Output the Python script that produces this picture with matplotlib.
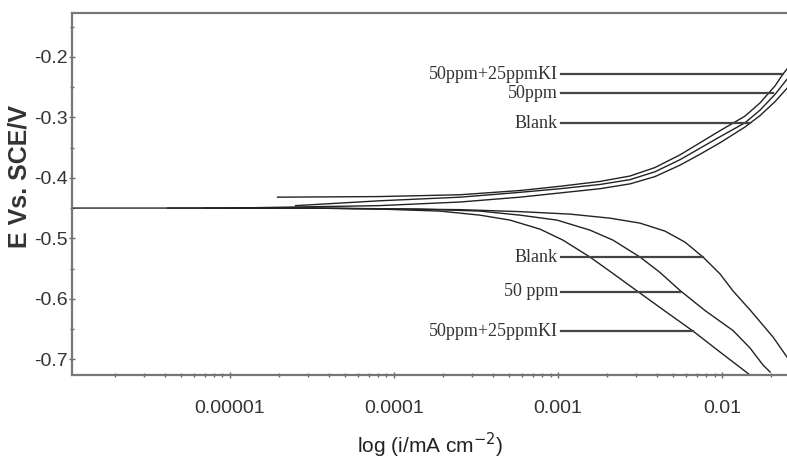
import numpy as np
import matplotlib
matplotlib.use("Agg")
import matplotlib.pyplot as plt
from matplotlib.ticker import FixedLocator, NullFormatter

# ---------------- data (log10 of current density, potential E / V) ----------------
blank_cat_logi = [-6.2, -4.573, -3.598, -3.232, -2.927, -2.683, -2.500, -2.348, -2.226, -2.116,
                  -2.012, -1.933, -1.829, -1.689, -1.604, -1.555]
blank_cat_E = [-0.450, -0.450, -0.4526, -0.4559, -0.460, -0.4667, -0.4749, -0.4881, -0.5063, -0.531,
               -0.559, -0.5871, -0.6185, -0.6633, -0.6964, -0.7146]

ppm50_cat_logi = [-5.38, -4.5, -3.841, -3.476, -3.232, -3.006, -2.805, -2.665, -2.500, -2.378,
                  -2.256, -2.104, -1.933, -1.829, -1.750, -1.707]
ppm50_cat_E = [-0.450, -0.450, -0.4517, -0.4550, -0.4617, -0.4699, -0.4865, -0.503, -0.531, -0.5565,
               -0.5863, -0.6194, -0.6525, -0.6815, -0.7096, -0.7211]

ki_cat_logi = [-5.16, -4.5, -4.085, -3.720, -3.476, -3.293, -3.110, -2.970, -2.805, -2.652,
               -2.518, -2.348, -2.177, -2.012, -1.829, -1.768]
ki_cat_E = [-0.450, -0.450, -0.4517, -0.4550, -0.4617, -0.4699, -0.4848, -0.503, -0.531, -0.5607,
            -0.5871, -0.6203, -0.6534, -0.6881, -0.7261, -0.738]

blank_an_logi = [-5.0, -4.09, -3.598, -3.232, -2.988, -2.744, -2.561, -2.409, -2.256, -2.134,
                 -2.012, -1.860, -1.768, -1.677, -1.604]
blank_an_E = [-0.450, -0.446, -0.440, -0.432, -0.425, -0.418, -0.410, -0.398, -0.379, -0.361,
              -0.342, -0.316, -0.297, -0.274, -0.252]

ppm50_an_logi = [-4.6, -4.09, -3.598, -3.232, -2.988, -2.744, -2.561, -2.409, -2.256, -2.134,
                 -2.012, -1.860, -1.768, -1.677, -1.604]
ppm50_an_E = [-0.446, -0.438, -0.432, -0.424, -0.418, -0.411, -0.403, -0.390, -0.370, -0.351,
              -0.332, -0.309, -0.288, -0.262, -0.237]

ki_an_logi = [-4.71, -4.09, -3.598, -3.232, -2.988, -2.744, -2.561, -2.409, -2.256, -2.134,
              -2.012, -1.860, -1.768, -1.677, -1.63, -1.58]
ki_an_E = [-0.432, -0.431, -0.428, -0.421, -0.414, -0.406, -0.397, -0.383, -0.362, -0.342,
           -0.322, -0.298, -0.276, -0.248, -0.229, -0.212]

# labels with leader lines: (text, E, log i where the line meets its curve)
anodic_labels = ["50ppm+25ppmKI", "50ppm", "Blank"]
anodic_label_E = [-0.229, -0.260, -0.310]
anodic_label_end = [-1.63, -1.69, -1.83]

cathodic_labels = ["Blank", "50 ppm", "50ppm+25ppmKI"]
cathodic_label_E = [-0.531, -0.588, -0.654]
cathodic_label_end = [-2.116, -2.256, -2.177]

x_tick_values = [1e-5, 1e-4, 1e-3, 1e-2]
x_tick_labels = ["0.00001", "0.0001", "0.001", "0.01"]
y_tick_values = [-0.2, -0.3, -0.4, -0.5, -0.6, -0.7]
y_tick_labels = ["-0.2", "-0.3", "-0.4", "-0.5", "-0.6", "-0.7"]
y_minor_values = [-0.15, -0.25, -0.35, -0.45, -0.55, -0.65]

# ---------------- figure ----------------
fig = plt.figure(figsize=(7.87, 4.63), dpi=100)
ax = fig.add_axes([72 / 787, 1 - 375 / 463, 1 - 72 / 787, (375 - 12.7) / 463])

curve_color = "#222222"
curves = [
    (blank_cat_logi, blank_cat_E), (ppm50_cat_logi, ppm50_cat_E), (ki_cat_logi, ki_cat_E),
    (blank_an_logi, blank_an_E), (ppm50_an_logi, ppm50_an_E), (ki_an_logi, ki_an_E),
]
for lx, ey in curves:
    ax.plot(10 ** np.array(lx), ey, color=curve_color, lw=1.0)

ax.set_xscale("log")
ax.set_xlim(10 ** -5.963, 10 ** -1.604)
ax.set_ylim(-0.726, -0.127)

serif = ["Liberation Serif", "DejaVu Serif"]
label_x_text = 10 ** -3.0
label_x_line = 10 ** -2.98
for txt, e, end in zip(anodic_labels + cathodic_labels,
                       anodic_label_E + cathodic_label_E,
                       anodic_label_end + cathodic_label_end):
    ax.plot([label_x_line, 10 ** end], [e, e], color="#444444", lw=1.6)
    ax.text(label_x_text, e, txt, ha="right", va="center", fontsize=13,
            family=serif, color="#333333")

# axes styling
for side in ["left", "bottom", "top"]:
    ax.spines[side].set_color("#777777")
    ax.spines[side].set_linewidth(1.6)
ax.spines["right"].set_visible(False)

sans = ["Liberation Sans", "DejaVu Sans"]
ax.xaxis.set_major_locator(FixedLocator(x_tick_values))
ax.set_xticklabels(x_tick_labels, fontsize=14, family=sans, color="#333333")
ax.yaxis.set_major_locator(FixedLocator(y_tick_values))
ax.set_yticklabels(y_tick_labels, fontsize=14, family=sans, color="#333333")
ax.yaxis.set_minor_locator(FixedLocator(y_minor_values))
ax.yaxis.set_minor_formatter(NullFormatter())
ax.tick_params(axis="both", which="major", direction="inout", length=4, width=1,
               color="#666666")
ax.tick_params(axis="both", which="minor", direction="inout", length=3, width=1,
               color="#666666")
ax.tick_params(axis="x", which="major", pad=16)
ax.tick_params(axis="y", which="major", pad=1)

ax.set_xlabel("log (i/mA cm$^{-2}$)", fontsize=15, family=sans, color="#222222",
              labelpad=10)
fig.text(20 / 787, 1 - 176 / 463, "E Vs. SCE/V", rotation=90, ha="center", va="center",
         fontsize=18, fontweight="bold", family=sans, color="#333333")

fig.savefig("out.png", dpi=100)
